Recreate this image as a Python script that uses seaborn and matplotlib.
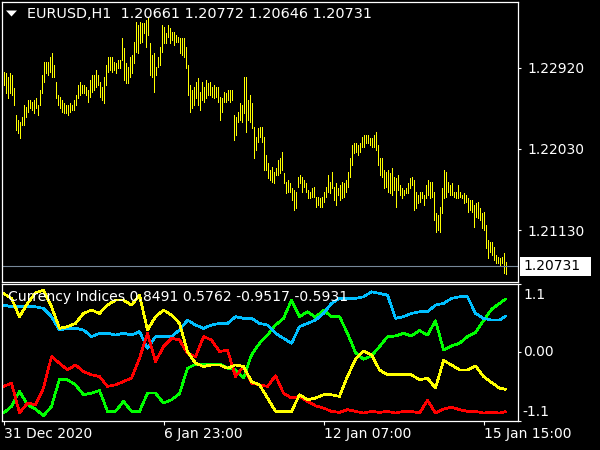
import numpy as np
import pandas as pd
import matplotlib
matplotlib.use("Agg")
import matplotlib.pyplot as plt
import seaborn as sns
from matplotlib.patches import Rectangle, Polygon
from matplotlib.transforms import IdentityTransform, ScaledTranslation

# ---------------- data ----------------
symbol = "EURUSD,H1"
last_ohlc = [1.20661, 1.20772, 1.20646, 1.20731]

high = [
    1.22880, 1.22861, 1.22825, 1.22861, 1.22843, 1.22696, 1.22401, 1.22346, 1.22327, 1.22383,
    1.22511, 1.22493, 1.22567, 1.22567, 1.22548, 1.22567, 1.22585, 1.22511, 1.22677, 1.22843,
    1.22990, 1.22990, 1.22990, 1.23045, 1.23082, 1.22953, 1.22769, 1.22622, 1.22603, 1.22567,
    1.22530, 1.22511, 1.22511, 1.22530, 1.22511, 1.22567, 1.22622, 1.22732, 1.22769, 1.22732,
    1.22732, 1.22714, 1.22677, 1.22788, 1.22843, 1.22843, 1.22898, 1.22843, 1.22769, 1.22714,
    1.22825, 1.22953, 1.23045, 1.23045, 1.23045, 1.22990, 1.22972, 1.23009, 1.23009, 1.23248,
    1.23137, 1.22972, 1.22935, 1.23045, 1.23064, 1.23211, 1.23432, 1.23395, 1.23432, 1.23414,
    1.23414, 1.23451, 1.23469, 1.23193, 1.23064, 1.23082, 1.22935, 1.23045, 1.23156, 1.23395,
    1.23377, 1.23303, 1.23395, 1.23358, 1.23322, 1.23322,
    1.23285, 1.23266, 1.23248, 1.23248,
    1.23248, 1.23156, 1.22953, 1.22732, 1.22677, 1.22714, 1.22769, 1.22806, 1.22659, 1.22769,
    1.22714, 1.22788, 1.22751, 1.22769, 1.22714, 1.22732, 1.22714, 1.22714, 1.22603, 1.22585,
    1.22659, 1.22640, 1.22677, 1.22677, 1.22677, 1.22401, 1.22383, 1.22438, 1.22530, 1.22511,
    1.22825, 1.22825, 1.22567, 1.22622, 1.22530, 1.22272, 1.22162, 1.22254, 1.22272, 1.22272,
    1.22162, 1.21959, 1.21867, 1.21793, 1.21830, 1.21775, 1.21812, 1.21904, 1.21922, 1.21996,
    1.21756, 1.21664, 1.21683, 1.21646, 1.21591, 1.21572, 1.21554, 1.21720, 1.21738, 1.21720,
    1.21683, 1.21646, 1.21572, 1.21554, 1.21591, 1.21609, 1.21499, 1.21499, 1.21480, 1.21499,
    1.21554, 1.21609, 1.21738, 1.21664, 1.21775, 1.21609, 1.21646, 1.21591, 1.21627, 1.21664,
    1.21646,
    1.21683, 1.21775, 1.21922, 1.22069, 1.22088, 1.22088, 1.22069, 1.22088, 1.22162,
    1.22180, 1.22180, 1.22180, 1.22143, 1.22143, 1.22180, 1.22217, 1.22069, 1.21922, 1.21922,
    1.21793, 1.21775, 1.21793, 1.21756, 1.21812, 1.21720, 1.21701, 1.21738, 1.21627, 1.21591,
    1.21572, 1.21591, 1.21646, 1.21701, 1.21720, 1.21683, 1.21554, 1.21517, 1.21554, 1.21554,
    1.21517, 1.21627, 1.21683, 1.21664, 1.21664, 1.21554, 1.21314, 1.21296, 1.21388, 1.21591,
    1.21793, 1.21775, 1.21664, 1.21627, 1.21646, 1.21554, 1.21554, 1.21627, 1.21554, 1.21517,
    1.21535, 1.21517, 1.21480, 1.21462, 1.21462, 1.21406, 1.21425, 1.21443, 1.21370, 1.21314,
    1.21333, 1.21185, 1.21020, 1.21001, 1.21001, 1.20946, 1.20854, 1.20836, 1.20817, 1.20836,
    1.20872, 1.20772,
]
low = [
    1.22732, 1.22640, 1.22585, 1.22640, 1.22622, 1.22511, 1.22235, 1.22198, 1.22143, 1.22290,
    1.22290, 1.22383, 1.22438, 1.22475, 1.22456, 1.22419, 1.22475, 1.22401, 1.22511, 1.22640,
    1.22769, 1.22861, 1.22843, 1.22880, 1.22825, 1.22825, 1.22585, 1.22511, 1.22475, 1.22438,
    1.22419, 1.22419, 1.22401, 1.22438, 1.22456, 1.22456, 1.22511, 1.22585, 1.22622, 1.22640,
    1.22640, 1.22622, 1.22548, 1.22603, 1.22659, 1.22677, 1.22714, 1.22732, 1.22603, 1.22567,
    1.22530, 1.22732, 1.22880, 1.22898, 1.22880, 1.22898, 1.22861, 1.22917, 1.22917, 1.23009,
    1.22788, 1.22751, 1.22751, 1.22825, 1.22861, 1.22972, 1.23101, 1.23082, 1.23193, 1.23211,
    1.23303, 1.23156, 1.23285, 1.22843, 1.22825, 1.22659, 1.22843, 1.22935, 1.22953, 1.23101,
    1.23193, 1.23193, 1.23266, 1.23193, 1.23229, 1.23174,
    1.23211, 1.23211, 1.23082, 1.23064,
    1.23045, 1.22917, 1.22622, 1.22438, 1.22475, 1.22511, 1.22585, 1.22511, 1.22456, 1.22567,
    1.22548, 1.22585, 1.22622, 1.22622, 1.22603, 1.22585, 1.22603, 1.22548, 1.22346, 1.22438,
    1.22548, 1.22548, 1.22567, 1.22548, 1.22567, 1.22125, 1.22180, 1.22327, 1.22346, 1.22327,
    1.22419, 1.22217, 1.22346, 1.22327, 1.22254, 1.21922, 1.22014, 1.22106, 1.22162, 1.22106,
    1.21793, 1.21793, 1.21701, 1.21683, 1.21664, 1.21646, 1.21738, 1.21738, 1.21756, 1.21793,
    1.21646, 1.21535, 1.21554, 1.21554, 1.21462, 1.21351, 1.21370, 1.21609, 1.21646, 1.21554,
    1.21609, 1.21554, 1.21480, 1.21480, 1.21499, 1.21499, 1.21388, 1.21406, 1.21388, 1.21388,
    1.21443, 1.21499, 1.21554, 1.21535, 1.21591, 1.21462, 1.21406, 1.21517, 1.21462, 1.21480,
    1.21499,
    1.21554, 1.21609, 1.21720, 1.21848, 1.21977, 1.21996, 1.21959, 1.21996, 1.22051,
    1.22051, 1.22088, 1.22088, 1.22069, 1.22051, 1.22051, 1.22014, 1.21848, 1.21738, 1.21720,
    1.21591, 1.21609, 1.21554, 1.21535, 1.21517, 1.21572, 1.21388, 1.21572, 1.21517, 1.21480,
    1.21517, 1.21535, 1.21535, 1.21591, 1.21627, 1.21351, 1.21370, 1.21425, 1.21443, 1.21480,
    1.21406, 1.21480, 1.21517, 1.21480, 1.21499, 1.21241, 1.21112, 1.21130, 1.21112, 1.21314,
    1.21480, 1.21499, 1.21554, 1.21517, 1.21517, 1.21499, 1.21480, 1.21480, 1.21499, 1.21480,
    1.21425, 1.21443, 1.21333, 1.21351, 1.21333, 1.21167, 1.21278, 1.21259, 1.21241, 1.21149,
    1.21130, 1.20928, 1.20817, 1.20891, 1.20854, 1.20799, 1.20762, 1.20762, 1.20743, 1.20762,
    1.20651, 1.20646,
]

price_ticks = [1.22920, 1.22030, 1.21130]

date_tick_bars = [0, 80, 160, 240]
date_tick_labels = ["31 Dec 2020", "6 Jan 23:00", "12 Jan 07:00", "15 Jan 15:00"]

# currency index lines, sampled every 4 bars plus the last bar
ind_bars = list(range(0, 252, 4)) + [251]
green = [
    -0.972, -0.866, -0.627, -0.840, -0.909, -1.015, -0.866, -0.430, -0.441, -0.521, -0.680,
    -0.654, -0.611, -0.946, -0.946, -0.786, -0.946, -0.946, -0.654, -0.654, -0.813, -0.760,
    -0.664, -0.255, -0.191, -0.202, -0.186, -0.186, -0.255, -0.282, -0.414, -0.043, 0.143,
    0.276, 0.436, 0.542, 0.834, 0.569, 0.648, 0.558, 0.675, 0.569, 0.569,
    0.303, -0.005, -0.112, -0.058, 0.090, 0.250, 0.260, 0.303, 0.260, 0.346, 0.276,
    0.505, 0.037, 0.101, 0.143, 0.250, 0.314, 0.505, 0.686, 0.781, 0.8491,
]
blue = [
    0.755, 0.728, 0.728, 0.728, 0.728, 0.701, 0.569, 0.356, 0.383, 0.383, 0.356,
    0.250, 0.303, 0.303, 0.276, 0.303, 0.276, 0.329, 0.064, 0.250, 0.250, 0.250,
    0.356, 0.515, 0.436, 0.383, 0.436, 0.462, 0.462, 0.569, 0.542, 0.542, 0.462,
    0.436, 0.303, 0.223, 0.143, 0.409, 0.462, 0.515, 0.622, 0.781, 0.861,
    0.861, 0.861, 0.887, 0.967, 0.941, 0.914, 0.542, 0.569, 0.622, 0.648, 0.648,
    0.755, 0.781, 0.861, 0.887, 0.887, 0.622, 0.542, 0.515, 0.515, 0.5762,
]
red = [
    -0.547, -0.494, -0.972, -0.813, -0.840, -0.574, -0.069, -0.175, -0.282, -0.202, -0.308,
    -0.361, -0.388, -0.547, -0.521, -0.468, -0.414, -0.096, 0.303, -0.149, 0.090, 0.223,
    0.197, -0.016, -0.069, 0.250, 0.197, 0.011, 0.037, -0.388, -0.229, -0.494, -0.521,
    -0.547, -0.375, -0.654, -0.733, -0.707, -0.786, -0.856, -0.893, -0.946, -0.962,
    -0.919, -0.946, -0.972, -0.946, -0.962, -0.946, -0.972, -0.946, -0.946, -0.972, -0.770,
    -0.972, -0.909, -0.877, -0.919, -0.946, -0.946, -0.972, -0.962, -0.972, -0.9517,
]
yellow = [
    0.941, 0.861, 0.569, 0.781, 0.950, 0.994, 0.728, 0.383, 0.409, 0.462, 0.622,
    0.675, 0.622, 0.755, 0.834, 0.834, 0.755, 0.914, 0.356, 0.569, 0.675, 0.595,
    0.462, 0.011, -0.175, -0.229, -0.202, -0.202, -0.255, -0.202, -0.229, -0.468, -0.521,
    -0.733, -0.946, -0.946, -0.946, -0.680, -0.760, -0.733, -0.680, -0.680, -0.707,
    -0.388, -0.112, 0.021, -0.043, -0.282, -0.361, -0.361, -0.361, -0.361, -0.441, -0.414,
    -0.574, -0.133, -0.202, -0.282, -0.282, -0.218, -0.388, -0.484, -0.574, -0.5931,
]
ind_ticks = [1.1, 0.0, -1.1]
ind_tick_labels = ["1.1", "0.00", "-1.1"]

# ---------------- style ----------------
sns.set_theme(style="dark", rc={
    "figure.facecolor": "black", "axes.facecolor": "black", "savefig.facecolor": "black",
    "axes.edgecolor": "white", "axes.linewidth": 0.9, "text.color": "white",
    "xtick.color": "white", "ytick.color": "white", "axes.grid": False,
    "font.size": 10, "xtick.labelsize": 10, "ytick.labelsize": 10,
})
plt.rcParams["font.family"] = ["DejaVu Sans"]

W, H = 600, 450
fig = plt.figure(figsize=(W / 100, H / 100), dpi=100)


def px_axes(left, top, right, bottom):
    return fig.add_axes([left / W, 1 - bottom / H, (right - left) / W, (bottom - top) / H])


ax = px_axes(2, 2, 518, 281.5)
ax2 = px_axes(2, 283.5, 518, 421)
for a in (ax, ax2):
    a.set_facecolor("black")
    for s in a.spines.values():
        s.set_color("white")
        s.set_linewidth(0.9)
    a.set_xlim(-0.75, 257.25)

# ---------------- main price panel ----------------
bars = np.arange(len(high))
df = pd.DataFrame({"bar": bars, "high": high, "low": low})
ax.vlines(df["bar"], df["low"], df["high"], colors="#FFFF00", linewidth=0.6,
          antialiased=False)
close = last_ohlc[3]
ax.axhline(close, color="#778899", linewidth=0.8)
ax.set_ylim(1.205611, 1.236492)
ax.set_xticks([])
ax.yaxis.tick_right()
ax.set_yticks(price_ticks)
ax.set_yticklabels([f"{v:.5f}" for v in price_ticks])
ax.tick_params(axis="y", length=2.2, width=0.8, pad=4.3, colors="white",
               right=True, left=False)
ax.set_xlabel("")
ax.set_ylabel("")

fig.text(27 / W, 1 - 14.5 / H,
         f"{symbol}  " + " ".join(f"{v:.5f}" for v in last_ohlc),
         ha="left", va="center", fontsize=10.4, color="white")
fig.add_artist(Polygon([(6 / W, 1 - 10.5 / H), (17 / W, 1 - 10.5 / H), (11.5 / W, 1 - 16.5 / H)],
                       closed=True, facecolor="white", edgecolor="none",
                       transform=fig.transFigure))

# ---------------- indicator panel ----------------
ind = pd.DataFrame({"bar": ind_bars, "green": green, "blue": blue,
                    "red": red, "yellow": yellow})
for col, colr in [("green", "#00FF00"), ("blue", "#00BFFF"),
                  ("red", "#FF0000"), ("yellow", "#FFFF00")]:
    sns.lineplot(data=ind, x="bar", y=col, ax=ax2, color=colr, linewidth=1.2,
                 legend=False, antialiased=False)
ax2.set_ylim(-1.1, 1.1)
ax2.set_xlabel("")
ax2.set_ylabel("")
ax2.yaxis.tick_right()
ax2.set_yticks(ind_ticks)
ax2.set_yticklabels([])
ax2.tick_params(axis="y", length=2.2, width=0.8, colors="white", right=True, left=False)
offsets = [(5, -11.5), (5, 0.5), (4, 9.3)]
for v, lab, (dx, dy) in zip(ind_ticks, ind_tick_labels, offsets):
    ax2.text(1.0, v, lab, ha="left", va="center", fontsize=10, color="white",
             transform=ax2.get_yaxis_transform() + ScaledTranslation(dx / 100, dy / 100, fig.dpi_scale_trans),
             clip_on=False)

ax2.set_xticks(date_tick_bars)
ax2.set_xticklabels(date_tick_labels, ha="left")
ax2.tick_params(axis="x", length=2.9, width=0.8, pad=1.6, colors="white",
                bottom=True, top=False)

label_vals = [green[-1], blue[-1], red[-1], yellow[-1]]
fig.text(8 / W, 1 - 297 / H,
         "Currency Indices " + " ".join(f"{v:.4f}" for v in label_vals),
         ha="left", va="center", fontsize=10.1, color="white", zorder=10)

# ---------------- current price box ----------------
fig.canvas.draw()
y_disp = ax.transData.transform((0, close))[1]
fig.add_artist(Rectangle((520, y_disp - 9.5), 71, 19, transform=IdentityTransform(),
                         facecolor="white", edgecolor="none"))
fig.text(523, y_disp, f"{close:.5f}", transform=IdentityTransform(),
         ha="left", va="center", fontsize=10, color="black")

fig.savefig("out.png", dpi=100, facecolor="black")
